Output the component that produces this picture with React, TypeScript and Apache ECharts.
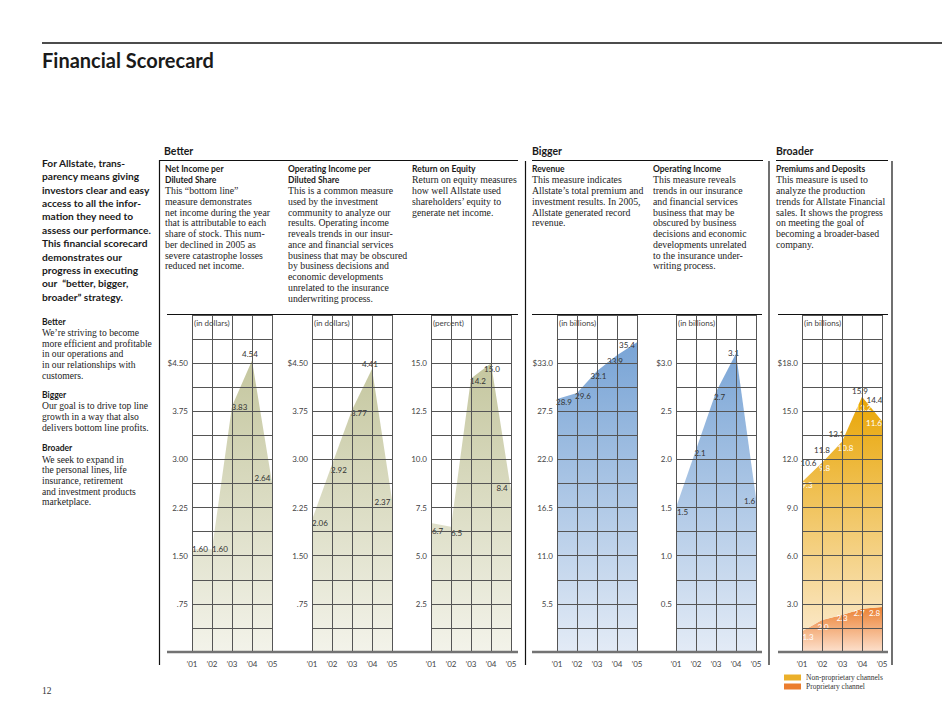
import React, { useEffect, useRef } from 'react';
import * as echarts from 'echarts';

// ---------- data ----------
const years = ['\u201901', '\u201902', '\u201903', '\u201904', '\u201905'];
const netIncomePerShare = [1.6, 1.6, 3.83, 4.54, 2.64];
const operatingIncomePerShare = [2.06, 2.92, 3.77, 4.41, 2.37];
const returnOnEquity = [6.7, 6.5, 14.2, 15.0, 8.4];
const revenue = [28.9, 29.6, 32.1, 33.9, 35.4];
const operatingIncome = [1.5, 2.1, 2.7, 3.1, 1.6];
const proprietaryChannel = [1.3, 2.0, 2.3, 2.7, 2.8];
const nonProprietaryChannels = [9.3, 9.8, 10.8, 13.2, 11.6];
const premiumsTotal = [10.6, 11.8, 13.1, 15.9, 14.4];

const dollarTicks = ['', '.75', '1.50', '2.25', '3.00', '3.75', '$4.50', ''];
const percentTicks = ['', '2.5', '5.0', '7.5', '10.0', '12.5', '15.0', ''];
const revenueTicks = ['', '5.5', '11.0', '16.5', '22.0', '27.5', '$33.0', ''];
const opIncomeTicks = ['', '0.5', '1.0', '1.5', '2.0', '2.5', '$3.0', ''];
const premiumTicks = ['', '3.0', '6.0', '9.0', '12.0', '15.0', '$18.0', ''];

// ---------- texts ----------
const pageTitle = 'Financial Scorecard';
const introLines = [
  'For Allstate, trans-',
  'parency means giving',
  'investors clear and easy',
  'access to all the infor-',
  'mation they need to',
  'assess our performance.',
  'This financial scorecard',
  'demonstrates our',
  'progress in executing',
  'our  \u201cbetter, bigger,',
  'broader\u201d strategy.',
];
const sideSections = [
  { head: 'Better', body: ['We\u2019re striving to become', 'more efficient and profitable', 'in our operations and', 'in our relationships with', 'customers.'] },
  { head: 'Bigger', body: ['Our goal is to drive top line', 'growth in a way that also', 'delivers bottom line profits.'] },
  { head: 'Broader', body: ['We seek to expand in', 'the personal lines, life', 'insurance, retirement', 'and investment products', 'marketplace.'] },
];
const groupHeads = ['Better', 'Bigger', 'Broader'];
const descriptions = [
  { title: ['Net Income per', 'Diluted Share'], body: ['This \u201cbottom line\u201d', 'measure demonstrates', 'net income during the year', 'that is attributable to each', 'share of stock. This num-', 'ber declined in 2005 as', 'severe catastrophe losses', 'reduced net income.'] },
  { title: ['Operating Income per', 'Diluted Share'], body: ['This is a common measure', 'used by the investment', 'community to analyze our', 'results. Operating income', 'reveals trends in our insur-', 'ance and financial services', 'business that may be obscured', 'by business decisions and', 'economic developments', 'unrelated to the insurance', 'underwriting process.'] },
  { title: ['Return on Equity'], body: ['Return on equity measures', 'how well Allstate used', 'shareholders\u2019 equity to', 'generate net income.'] },
  { title: ['Revenue'], body: ['This measure indicates', 'Allstate\u2019s total premium and', 'investment results. In 2005,', 'Allstate generated record', 'revenue.'] },
  { title: ['Operating Income'], body: ['This measure reveals', 'trends in our insurance', 'and financial services', 'business that may be', 'obscured by business', 'decisions and economic', 'developments unrelated', 'to the insurance under-', 'writing process.'] },
  { title: ['Premiums and Deposits'], body: ['This measure is used to', 'analyze the production', 'trends for Allstate Financial', 'sales. It shows the progress', 'on meeting the goal of', 'becoming a broader-based', 'company.'] },
];
const unitNames = ['(in dollars)', '(in dollars)', '(percent)', '(in billions)', '(in billions)', '(in billions)'];
const seriesNames = ['Non-proprietary channels', 'Proprietary channel'];
const pageNumber = '12';

// ---------- layout / style ----------
const GRID_TOP = 315;
const GRID_H = 337;
const GRID_W = 80;
const gridLefts = [192, 312, 431, 557, 676, 802];
const descX = [165, 288, 412, 532, 653, 776];
const headX = [164, 532, 776];

const SANS = 'Lato, "Open Sans", sans-serif';
const SERIF = '"Liberation Serif", "DejaVu Serif", serif';
const GRIDC = '#555';

const offs = {
  net: [[8, 0], [8, 0], [7.5, 1], [-2, -6.5], [-9.5, -4.5]],
  opShare: [[8, 3], [7, 5.5], [7, 3], [-2, -5], [-9.5, 2]],
  roe: [[6.5, 8], [5.5, 6], [7, 2.5], [1, 6], [-9, -2]],
  rev: [[7, 3], [6, 3], [1.5, 5], [-2, 5.5], [-10, 3]],
  opInc: [[6.5, 4.5], [4, 3], [3.5, 5], [-2.5, -0.5], [-6.5, 3]],
  total: [[6.5, -19], [0, -12.5], [-5.5, -7.5], [-2, -6], [-7.5, -21]],
  nonProp: [[5, 3], [2.5, 5.5], [3.5, 6.5], [1.5, 11], [-8, 2]],
  prop: [[6, 6], [1, 7], [0, 3], [-3, 4], [-7.5, 6]],
};

function grad(y0: number, c0: string, y1: number, c1: string) {
  return new echarts.graphic.LinearGradient(0, y0, 0, y1, [
    { offset: 0, color: c0 },
    { offset: 1, color: c1 },
  ], true);
}

function buildOption() {
  const olive = () => grad(340, '#c1c399', 652, '#f3f3ea');
  const blue = () => grad(340, '#77a3d5', 652, '#e3ebf6');
  const panels = [
    { ticks: dollarTicks, step: 0.75 },
    { ticks: dollarTicks, step: 0.75 },
    { ticks: percentTicks, step: 2.5 },
    { ticks: revenueTicks, step: 5.5 },
    { ticks: opIncomeTicks, step: 0.5 },
    { ticks: premiumTicks, step: 3 },
  ];
  const grid: any[] = [];
  const xAxis: any[] = [];
  const yAxis: any[] = [];
  panels.forEach((p, i) => {
    grid.push({ left: gridLefts[i], top: GRID_TOP, width: GRID_W, height: GRID_H, containLabel: false });
    xAxis.push({
      gridIndex: i, type: 'category', data: years, boundaryGap: false, z: 5,
      axisLine: { show: false }, axisTick: { show: false },
      axisLabel: { interval: 0, margin: 8, fontSize: 8, color: '#444', fontFamily: SANS },
      splitLine: { show: true, interval: 0, lineStyle: { color: GRIDC, width: 1 } },
    });
    yAxis.push({
      gridIndex: i, type: 'value', min: 0, max: p.step * 7, interval: p.step, z: 5,
      axisLine: { show: false }, axisTick: { show: false },
      axisLabel: {
        margin: 4, fontSize: 8, color: '#444', fontFamily: SANS,
        formatter: (v: number) => {
          const k = Math.round(v / p.step);
          return Math.abs(v - k * p.step) < 1e-6 ? (p.ticks[k] ?? '') : '';
        },
      },
      splitLine: { show: true, lineStyle: { color: GRIDC, width: 1 } },
      minorTick: { show: true, splitNumber: 2, length: 0, lineStyle: { width: 0 } },
      minorSplitLine: { show: true, lineStyle: { color: GRIDC, width: 1 } },
      name: unitNames[i], nameLocation: 'end', nameGap: -8,
      nameTextStyle: { align: 'left', verticalAlign: 'middle', fontSize: 8, color: '#444', fontFamily: SANS, padding: [0, 0, 0, 2] },
    });
  });

  const mk = (vals: number[], o: number[][]) => vals.map((v, j) => ({ value: v, label: { offset: o[j] } }));
  const areaSeries = (i: number, vals: number[], o: number[][], dec: number, color: any, extra: any = {}) => ({
    type: 'line', xAxisIndex: i, yAxisIndex: i, data: mk(vals, o),
    symbol: 'circle', symbolSize: 0, showSymbol: true, silent: true,
    lineStyle: { opacity: 0, width: 0 },
    areaStyle: { color, opacity: 1 },
    label: {
      show: true, position: 'inside', fontSize: 8, color: '#333', fontFamily: SANS,
      formatter: (pp: any) => Number(pp.value).toFixed(dec),
    },
    emphasis: { disabled: true },
    ...extra,
  });

  const series: any[] = [
    areaSeries(0, netIncomePerShare, offs.net, 2, olive()),
    areaSeries(1, operatingIncomePerShare, offs.opShare, 2, olive()),
    areaSeries(2, returnOnEquity, offs.roe, 1, olive()),
    areaSeries(3, revenue, offs.rev, 1, blue()),
    areaSeries(4, operatingIncome, offs.opInc, 1, blue()),
    {
      ...areaSeries(5, proprietaryChannel, offs.prop, 1, grad(604, '#ea7a27', 652, '#fde1ce')),
      name: seriesNames[1], stack: 'premiums', itemStyle: { color: '#eb7d2e' },
      label: { show: true, position: 'inside', fontSize: 8, color: '#fff', fontFamily: SANS, formatter: (pp: any) => Number(pp.value).toFixed(1) },
    },
    {
      ...areaSeries(5, nonProprietaryChannels, offs.nonProp, 1, grad(392, '#e8a400', 652, '#fcedd6')),
      name: seriesNames[0], stack: 'premiums', itemStyle: { color: '#ebb02a' },
      label: { show: true, position: 'inside', fontSize: 8, color: '#fff', fontFamily: SANS, formatter: (pp: any) => Number(pp.value).toFixed(1) },
    },
    {
      ...areaSeries(5, premiumsTotal, offs.total, 1, 'rgba(0,0,0,0)'),
      areaStyle: undefined,
    },
  ];

  const lineEl = (x1: number, y1: number, x2: number, y2: number, w: number, c = '#111') => ({
    type: 'line', z: 20, silent: true, shape: { x1, y1, x2, y2 }, style: { stroke: c, lineWidth: w },
  });
  const textEl = (x: number, y: number, lines: string[], font: string, lh: number, fill = '#222') => ({
    type: 'text', z: 20, silent: true, x, y,
    style: { text: lines.join('\n'), font, lineHeight: lh, fill, verticalAlign: 'top', align: 'left' },
  });

  const DLH = 10.75;
  const graphics: any[] = [];
  graphics.push(lineEl(42, 43, 942, 43, 1.5));
  graphics.push(textEl(42, 48, [pageTitle], `bold 20px ${SANS}`, 24, '#1a1a1a'));
  groupHeads.forEach((h, k) => graphics.push(textEl(headX[k], 144, [h], `bold 10.5px ${SANS}`, 13, '#1a1a1a')));
  // rules under headers
  graphics.push(lineEl(160, 160.5, 518, 160.5, 1.2));
  graphics.push(lineEl(532, 160.5, 763, 160.5, 1.2));
  graphics.push(lineEl(776, 160.5, 888, 160.5, 1.2));
  // rules above charts
  graphics.push(lineEl(167, 314.5, 518, 314.5, 1.2));
  graphics.push(lineEl(532, 314.5, 762, 314.5, 1.2));
  graphics.push(lineEl(778, 314.5, 888, 314.5, 1.2));
  // vertical separators
  graphics.push(lineEl(159.5, 160, 159.5, 665, 1.2));
  graphics.push(lineEl(525.5, 161, 525.5, 665, 1.2));
  graphics.push(lineEl(769, 161, 769, 665, 1.2));
  graphics.push(lineEl(892, 161, 892, 665, 1.2));
  // baselines
  graphics.push(lineEl(167, 652, 518, 652, 2.6, '#737373'));
  graphics.push(lineEl(532, 652, 762, 652, 2.6, '#737373'));
  graphics.push(lineEl(778, 652, 888, 652, 2.6, '#737373'));
  // descriptions
  descriptions.forEach((d, k) => {
    const y0 = 169 - DLH / 2;
    graphics.push(textEl(descX[k], y0, d.title, `bold 8.5px ${SANS}`, DLH, '#1a1a1a'));
    graphics.push(textEl(descX[k], y0 + d.title.length * DLH, d.body, `9.8px ${SERIF}`, DLH, '#222'));
  });
  // left column
  graphics.push(textEl(42, 156, introLines, `bold 10.2px ${SANS}`, 13.4, '#1a1a1a'));
  const sideY = [321.7, 395, 448.3];
  sideSections.forEach((s, k) => {
    const y0 = sideY[k] - 5.35;
    graphics.push(textEl(42, y0, [s.head], `bold 8.5px ${SANS}`, 10.7, '#1a1a1a'));
    graphics.push(textEl(42, y0 + 10.7, s.body, `9.6px ${SERIF}`, 10.7, '#222'));
  });
  graphics.push(textEl(42, 685, [pageNumber], `9.5px ${SERIF}`, 11, '#333'));

  return {
    animation: false,
    backgroundColor: '#ffffff',
    grid, xAxis, yAxis, series,
    legend: {
      data: seriesNames, orient: 'vertical', left: 779, top: 668, itemWidth: 17, itemHeight: 6, itemGap: 0,
      icon: 'rect', selectedMode: false,
      textStyle: { fontFamily: SERIF, fontSize: 7.5, color: '#333', lineHeight: 9 },
    },
    graphic: graphics,
  };
}

export default function App() {
  const ref = useRef<HTMLDivElement>(null);
  useEffect(() => {
    const chart = echarts.init(ref.current!, null, { renderer: 'svg' });
    chart.setOption(buildOption() as any);
    return () => chart.dispose();
  }, []);
  return (
    <div
      ref={ref}
      style={{ position: 'absolute', left: 0, top: 0, width: 942, height: 728, background: '#fff' }}
    />
  );
}
